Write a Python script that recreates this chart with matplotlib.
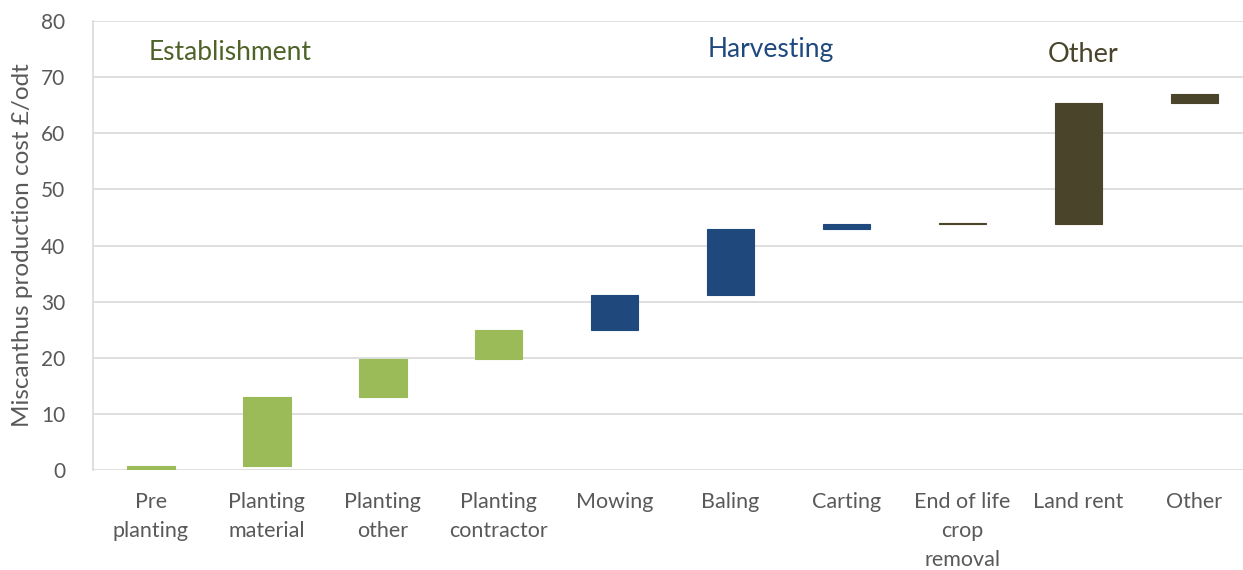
import numpy as np
import matplotlib.pyplot as plt

plt.rcParams['font.family'] = ['Lato', 'DejaVu Sans']

categories = ['Pre\nplanting', 'Planting\nmaterial', 'Planting\nother', 'Planting\ncontractor',
              'Mowing', 'Baling', 'Carting', 'End of life\ncrop\nremoval', 'Land rent', 'Other']
bottoms = [0.0, 0.7, 13.0, 19.7, 25.0, 31.1, 43.0, 43.75, 43.9, 65.4]
tops = [0.7, 13.0, 19.7, 25.0, 31.1, 43.0, 43.8, 43.95, 65.4, 67.0]
groups = ['est', 'est', 'est', 'est', 'harv', 'harv', 'harv', 'oth', 'oth', 'oth']

colors = {'est': '#9BBB59', 'harv': '#1F497D', 'oth': '#4A442A'}
text_colors = {'est': '#4F6228', 'harv': '#1F497D', 'oth': '#4A442A'}

fig = plt.figure(figsize=(12.43, 5.70), dpi=100)
ax = fig.add_axes([0.0748, 0.1754, 0.9252, 0.7877])

x = np.arange(len(categories))
heights = np.array(tops) - np.array(bottoms)
bar_colors = [colors[g] for g in groups]
ax.bar(x, heights, bottom=bottoms, width=0.41,
       color=bar_colors, edgecolor=bar_colors, linewidth=0.8, zorder=3)

ax.set_ylim(0, 80)
ax.set_xlim(-0.5, 9.42)
ax.set_yticks(range(0, 81, 10))
ax.yaxis.grid(True, color='#D9D9D9', linewidth=1.2, zorder=0)
ax.set_xticks(x)
ax.set_xticklabels(categories, fontsize=15.5, color='#595959', linespacing=1.55, va='top')
ax.tick_params(axis='y', labelsize=15, colors='#595959', length=0, pad=20)
ax.tick_params(axis='x', length=0, pad=16)
for s in ['top', 'right', 'bottom']:
    ax.spines[s].set_visible(False)
ax.spines['left'].set_color('#D9D9D9')
ax.spines['left'].set_linewidth(1.2)

ax.set_ylabel('Miscanthus production cost £/odt', fontsize=17.5, color='#595959', labelpad=6)

ax.text(0.68, 74.4, 'Establishment', fontsize=19, color=text_colors['est'], ha='center', va='center')
ax.text(5.35, 75.0, 'Harvesting', fontsize=19, color=text_colors['harv'], ha='center', va='center')
ax.text(8.04, 74.0, 'Other', fontsize=19.5, color=text_colors['oth'], ha='center', va='center')

plt.savefig('out.png', dpi=100)
